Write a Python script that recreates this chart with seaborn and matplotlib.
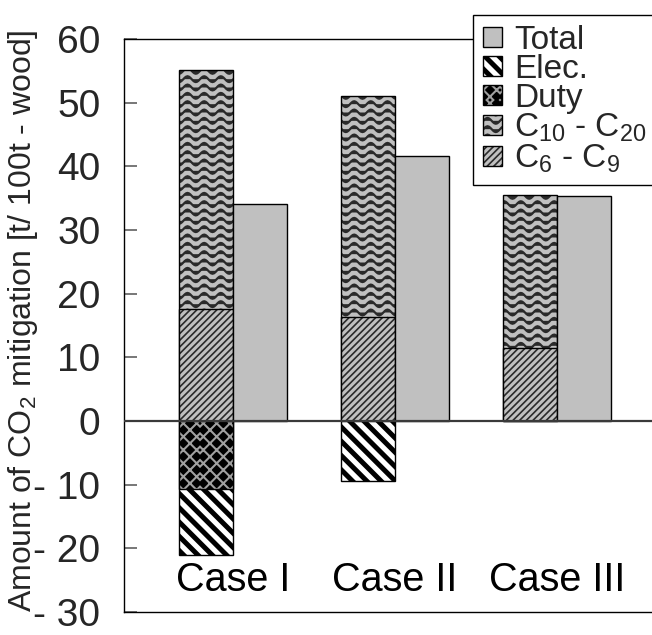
import warnings

import numpy as np
import pandas as pd
import matplotlib
matplotlib.use("Agg")
import matplotlib as mpl
import matplotlib.pyplot as plt
from matplotlib import hatch as mhatch
from matplotlib.path import Path
from matplotlib.patches import Patch
from matplotlib.colors import to_rgba
import seaborn as sns

warnings.filterwarnings("ignore", message=".*hatch must consist.*")

# ---- data -------------------------------------------------------------
cases = ["Case I", "Case II", "Case III"]
c6_c9 = [17.6, 16.3, 11.5]
c10_c20 = [37.5, 34.7, 24.0]
duty = [-10.7, 0.0, 0.0]
elec = [-10.3, -9.4, 0.0]
total = [34.1, 41.6, 35.4]

y_ticks = [-30, -20, -10, 0, 10, 20, 30, 40, 50, 60]
y_tick_labels = ["- 30", "- 20", "- 10", "0", "10", "20", "30", "40", "50", "60"]
legend_labels = ["Total", "Elec.", "Duty", "C$_{10}$ - C$_{20}$", "C$_{6}$ - C$_{9}$"]
y_label = "Amount of CO$_{2}$ mitigation [t/ 100t - wood]"

GRAY = "#c0c0c0"


# ---- extra hatch patterns ----------------------------------------------
class WaveHatch(mhatch.HatchPatternBase):
    """Rows of wavy lines, selected with '~' in a hatch string."""
    periods = 6
    samples = 12
    amplitude = 0.029

    def __init__(self, hatch, density):
        self.num_rows = int(hatch.count("~") * density)
        self.pts = self.periods * self.samples + 1
        self.num_vertices = self.num_rows * self.pts

    def set_vertices_and_codes(self, vertices, codes):
        xs = np.linspace(0.0, 1.0, self.pts)
        wave = self.amplitude * np.sin(2 * np.pi * self.periods * xs)
        for i in range(self.num_rows):
            y0 = (i + 0.5) / self.num_rows
            sl = slice(i * self.pts, (i + 1) * self.pts)
            vertices[sl, 0] = xs
            vertices[sl, 1] = y0 + wave
            codes[sl] = Path.LINETO
            codes[i * self.pts] = Path.MOVETO


class DenseSouthEast(mhatch.SouthEastHatch):
    """'z': wide falling stripes, 'k': falling half of the lattice."""

    def __init__(self, hatch, density):
        self.num_lines = hatch.count("z") * 14 + hatch.count("k") * 15
        self.num_vertices = (self.num_lines + 1) * 2 if self.num_lines else 0


class DenseNorthEast(mhatch.NorthEastHatch):
    """'k': rising half of the lattice."""

    def __init__(self, hatch, density):
        self.num_lines = hatch.count("k") * 15
        self.num_vertices = (self.num_lines + 1) * 2 if self.num_lines else 0


mhatch._hatch_types.extend([WaveHatch, DenseSouthEast, DenseNorthEast])


def set_hatch_width(p, lw):
    if hasattr(p, "set_hatch_linewidth"):
        p.set_hatch_linewidth(lw)
    else:
        draw = p.draw

        def draw_with_width(renderer, _draw=draw, _lw=lw):
            with mpl.rc_context({"hatch.linewidth": _lw}):
                _draw(renderer)

        p.draw = draw_with_width


def style(patches, face, hatch=None, hatch_lw=1.0, hatch_color="black"):
    for p in patches:
        p.set_facecolor(face)
        p.set_edgecolor("black")
        p.set_linewidth(1.0)
        if hatch:
            p.set_hatch(hatch)
            set_hatch_width(p, hatch_lw)
            if hasattr(p, "set_hatchcolor"):
                p.set_hatchcolor(hatch_color)
            else:
                p._hatch_color = to_rgba(hatch_color)


STYLES = {
    "Total": dict(face=GRAY),
    "Elec.": dict(face="white", hatch="z", hatch_lw=3.6),
    "Duty": dict(face="black", hatch="k", hatch_lw=1.5, hatch_color="#a0a0a0"),
    "C10-C20": dict(face=GRAY, hatch="~~", hatch_lw=1.6, hatch_color="#2a2a2a"),
    "C6-C9": dict(face=GRAY, hatch="/////", hatch_lw=1.2, hatch_color="#2a2a2a"),
}

# ---- figure -------------------------------------------------------------
sns.set_style("white")
plt.rcParams["font.family"] = ["Liberation Sans", "DejaVu Sans"]
plt.rcParams["mathtext.default"] = "regular"

W, H = 652, 635
fig = plt.figure(figsize=(W / 100, H / 100), dpi=100)
ax = fig.add_axes([124 / W, (H - 612) / H, 542 / W, (612 - 39) / H])

hue_order = ["stack", "total"]
palette = {"stack": GRAY, "total": GRAY}


def layer(values, kind, key):
    df = pd.DataFrame({"case": cases, "value": values, "kind": kind})
    df = df[df["value"] != 0]
    n0 = len(ax.patches)
    sns.barplot(data=df, x="case", y="value", hue="kind", order=cases,
                hue_order=hue_order, palette=palette, width=0.667, gap=0,
                dodge=True, errorbar=None, legend=False, saturation=1, ax=ax)
    style(ax.patches[n0:], **STYLES[key])


c_top = np.add(c6_c9, c10_c20)
neg_bottom = np.add(duty, elec)

layer(c_top, "stack", "C10-C20")
layer(c6_c9, "stack", "C6-C9")
layer(neg_bottom, "stack", "Elec.")
layer(duty, "stack", "Duty")
layer(total, "total", "Total")

ax.axhline(0, color="#3a3a3a", lw=1.6, zorder=3)

# case names inside the plot area
for i, name in enumerate(cases):
    ax.text(i, -25, name, ha="center", va="center", fontsize=28.5, color="black")

ax.set_xlim(-0.673, 2.673)
ax.set_ylim(-30, 60)
ax.set_yticks(y_ticks)
ax.set_yticklabels(y_tick_labels)
ax.tick_params(axis="y", direction="in", length=9, width=1.2, color="#606060",
               labelsize=28, pad=17, left=True)
ax.tick_params(axis="x", bottom=False, labelbottom=False)
ax.set_xlabel("")
ax.set_ylabel(y_label, fontsize=23)
ax.yaxis.set_label_coords(-0.155, 0.508)
for s in ax.spines.values():
    s.set_visible(True)
    s.set_color("black")
    s.set_linewidth(1.0)

handles = [Patch(label=l) for l in legend_labels]
leg = fig.legend(handles, legend_labels, loc="upper left",
                 bbox_to_anchor=(473 / W, 1 - 15 / H), frameon=True,
                 fancybox=False, edgecolor="black", framealpha=1,
                 fontsize=24, handlelength=0.58, handleheight=0.55,
                 handletextpad=0.36, labelspacing=-0.06, borderpad=0.3,
                 borderaxespad=0)
leg.get_frame().set_linewidth(1.0)
for p, key in zip(leg.get_patches(), ["Total", "Elec.", "Duty", "C10-C20", "C6-C9"]):
    style([p], **STYLES[key])

fig.savefig("out.png", dpi=100)
